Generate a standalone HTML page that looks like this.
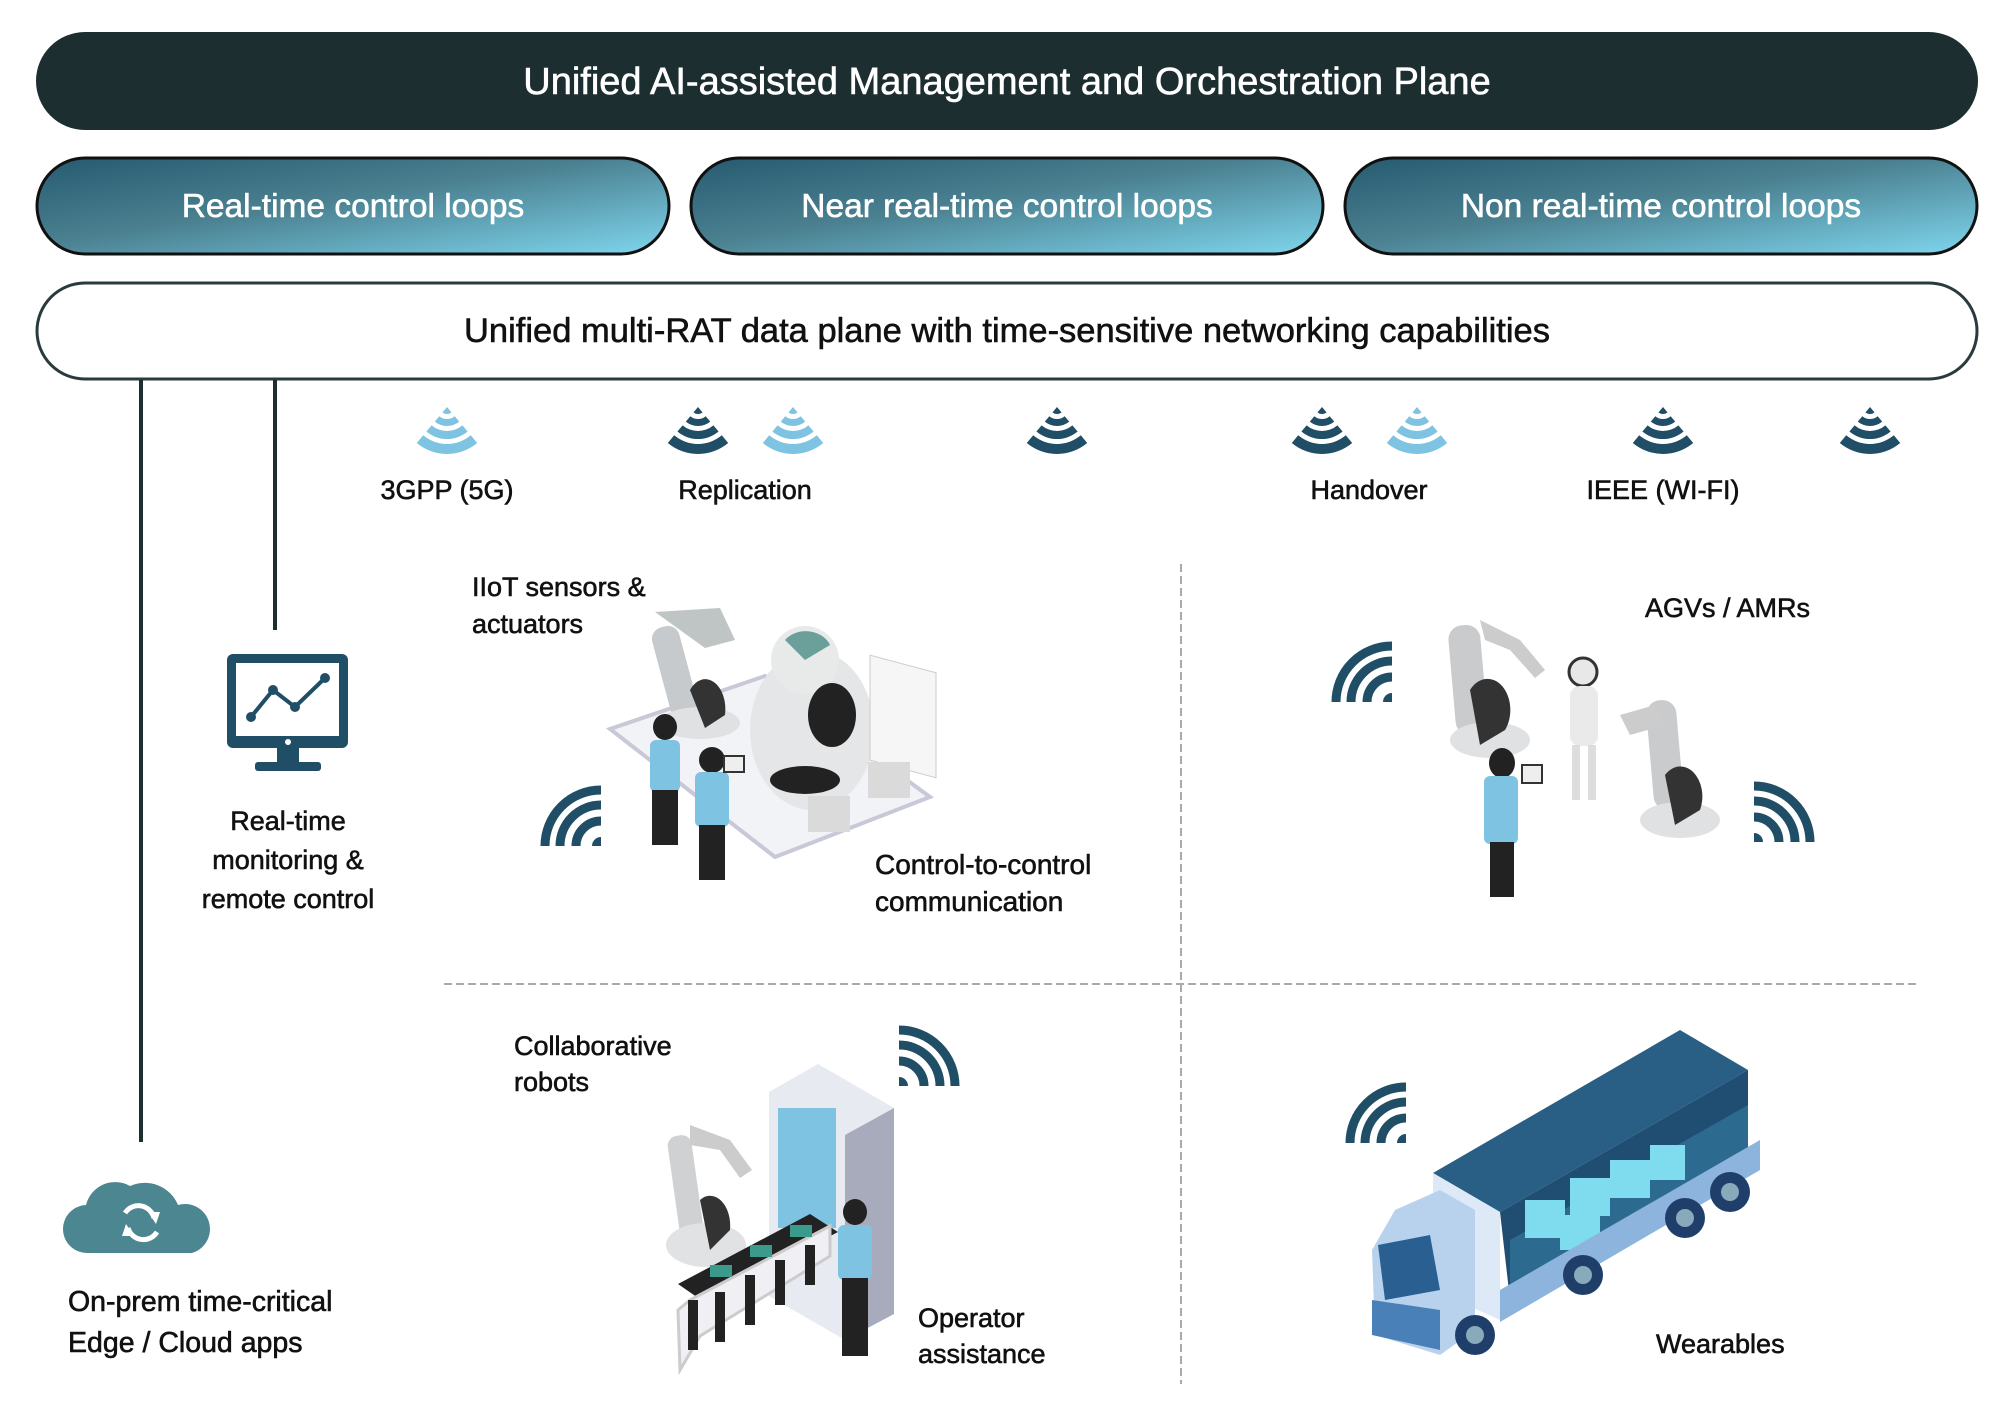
<!DOCTYPE html>
<html><head><meta charset="utf-8"><style>
html,body{margin:0;padding:0;background:#fff;}
svg{display:block;}
text{font-family:"Liberation Sans",sans-serif;}
</style></head><body>
<svg width="2000" height="1414" viewBox="0 0 2000 1414" xmlns="http://www.w3.org/2000/svg">
<defs>
<linearGradient id="g1" x1="0" y1="0" x2="1" y2="1">
<stop offset="0" stop-color="#275a70"/><stop offset="0.45" stop-color="#4a8090"/><stop offset="1" stop-color="#7fd6ee"/>
</linearGradient>
<g id="fan">
<path d="M32,0 L36.5,5.4 A7,7 0 0 1 27.5,5.4Z"/>
<path d="M39.7,9.2 L44.2,14.6 A19,19 0 0 1 19.8,14.6 L24.3,9.2 A12,12 0 0 0 39.7,9.2Z"/>
<path d="M47.4,18.4 L52.6,24.5 A32,32 0 0 1 11.4,24.5 L16.6,18.4 A24,24 0 0 0 47.4,18.4Z"/>
<path d="M55.8,28.3 L62.2,36 A47,47 0 0 1 1.8,36 L8.2,28.3 A37,37 0 0 0 55.8,28.3Z"/>
</g>
<g id="qbr" fill="none" stroke="#1f4e66" stroke-width="9">
<path d="M47,56 A9,9 0 0 1 56,47 L56,56Z" fill="#1f4e66" stroke="none"/>
<path d="M31,56 A25,25 0 0 1 56,31"/>
<path d="M15,56 A41,41 0 0 1 56,15"/>
<path d="M0,56 A56,56 0 0 1 56,0"/>
</g>
</defs>

<rect x="36" y="32" width="1942" height="98" rx="49" fill="#1d2e31"/>
<text x="1007" y="94" font-size="38" fill="#fff" stroke="#fff" stroke-width="0.6" text-anchor="middle">Unified AI-assisted Management and Orchestration Plane</text>

<rect x="37" y="158" width="632" height="96" rx="48" fill="url(#g1)" stroke="#111" stroke-width="3"/>
<rect x="691" y="158" width="632" height="96" rx="48" fill="url(#g1)" stroke="#111" stroke-width="3"/>
<rect x="1345" y="158" width="632" height="96" rx="48" fill="url(#g1)" stroke="#111" stroke-width="3"/>
<g font-size="33.5" fill="#fff" stroke="#fff" stroke-width="0.6" text-anchor="middle">
<text x="353" y="217">Real-time control loops</text>
<text x="1007" y="217">Near real-time control loops</text>
<text x="1661" y="217">Non real-time control loops</text>
</g>

<rect x="37" y="283" width="1940" height="96" rx="48" fill="#fff" stroke="#2a3b3e" stroke-width="3"/>
<text x="1007" y="342" font-size="34.5" fill="#111" stroke="#111" stroke-width="0.6" text-anchor="middle">Unified multi-RAT data plane with time-sensitive networking capabilities</text>

<line x1="141" y1="380" x2="141" y2="1142" stroke="#1d2e31" stroke-width="4"/>
<line x1="275" y1="380" x2="275" y2="630" stroke="#1d2e31" stroke-width="4"/>

<use href="#fan" x="415" y="407" fill="#7ec4e2"/>
<use href="#fan" x="666" y="407" fill="#1f4e66"/>
<use href="#fan" x="761" y="407" fill="#7ec4e2"/>
<use href="#fan" x="1025" y="407" fill="#1f4e66"/>
<use href="#fan" x="1290" y="407" fill="#1f4e66"/>
<use href="#fan" x="1385" y="407" fill="#7ec4e2"/>
<use href="#fan" x="1631" y="407" fill="#1f4e66"/>
<use href="#fan" x="1838" y="407" fill="#1f4e66"/>

<g font-size="27" fill="#111" stroke="#111" stroke-width="0.6">
<text x="447" y="499" text-anchor="middle">3GPP (5G)</text>
<text x="745" y="499" text-anchor="middle">Replication</text>
<text x="1369" y="499" text-anchor="middle">Handover</text>
<text x="1663" y="499" text-anchor="middle">IEEE (WI-FI)</text>
<text x="472" y="596">IIoT sensors &amp;</text>
<text x="472" y="633">actuators</text>
<text x="288" y="830" text-anchor="middle">Real-time</text>
<text x="288" y="869" text-anchor="middle">monitoring &amp;</text>
<text x="288" y="908" text-anchor="middle">remote control</text>
<text x="875" y="874" font-size="28">Control-to-control</text>
<text x="875" y="911" font-size="28">communication</text>
<text x="1645" y="617">AGVs / AMRs</text>
<text x="514" y="1055">Collaborative</text>
<text x="514" y="1091">robots</text>
<text x="918" y="1327">Operator</text>
<text x="918" y="1363">assistance</text>
<text x="1656" y="1353">Wearables</text>
<text x="68" y="1311" font-size="28.5">On-prem time-critical</text>
<text x="68" y="1352" font-size="28.5">Edge / Cloud apps</text>
</g>

<line x1="1181" y1="564" x2="1181" y2="1384" stroke="#aaa" stroke-width="2" stroke-dasharray="8 4"/>
<line x1="444" y1="984" x2="1917" y2="984" stroke="#aaa" stroke-width="2" stroke-dasharray="8 4"/>

<rect x="227" y="654" width="121" height="94" rx="6" fill="#1f4e66"/>
<rect x="236" y="663" width="103" height="73" fill="#fff"/>
<polyline points="251,717 273,690 295,707 325,678" fill="none" stroke="#1f4e66" stroke-width="4"/>
<circle cx="251" cy="717" r="5" fill="#1f4e66"/><circle cx="273" cy="690" r="5" fill="#1f4e66"/><circle cx="295" cy="707" r="5" fill="#1f4e66"/><circle cx="325" cy="678" r="5" fill="#1f4e66"/>
<circle cx="288" cy="742" r="3" fill="#fff"/>
<rect x="277" y="748" width="22" height="14" fill="#1f4e66"/>
<rect x="255" y="762" width="66" height="9" rx="3" fill="#1f4e66"/>

<path d="M88,1253 A24,24 0 0 1 86,1205 A30,30 0 0 1 130,1186 A36,36 0 0 1 178,1205 A24,24 0 0 1 192,1253Z" fill="#4c8690"/>
<g fill="none" stroke="#fff" stroke-width="5">
<path d="M125,1213 A16,16 0 0 1 154,1218"/><path d="M157,1232 A16,16 0 0 1 128,1228"/>
</g>
<path d="M148,1212 L160,1212 L156,1224Z M134,1236 L122,1236 L126,1224Z" fill="#fff"/>

<use href="#qbr" x="545" y="790"/>
<use href="#qbr" x="1336" y="646"/>
<use href="#qbr" x="1350" y="1087"/>
<use href="#qbr" transform="translate(1810,786) scale(-1,1)"/>
<use href="#qbr" transform="translate(955,1030) scale(-1,1)"/>

<polygon points="610,729 765,676 930,797 775,857" fill="#f2f3f6" stroke="#c8c8d8" stroke-width="4"/>
<rect x="663" y="625" width="28" height="110" rx="12" fill="#c7cacc" transform="rotate(-15 677 680)"/>
<path d="M655,612 L720,608 L735,640 L705,648Z" fill="#bfc4c4"/>
<ellipse cx="700" cy="723" rx="40" ry="16" fill="#dfe1e2"/>
<path d="M690,690 A20,30 0 0 1 725,715 L705,728Z" fill="#333"/>
<ellipse cx="812" cy="730" rx="62" ry="80" fill="#e4e6e7"/>
<circle cx="805" cy="660" r="34" fill="#e8eaea"/>
<path d="M785,640 A26,22 0 0 1 830,645 L805,660Z" fill="#6a9f9a"/>
<ellipse cx="832" cy="715" rx="24" ry="32" fill="#222"/>
<ellipse cx="805" cy="780" rx="35" ry="14" fill="#222"/>
<rect x="870" y="652" width="66" height="105" fill="#f6f6f6" stroke="#ccc" transform="skewY(15) translate(0,-230)"/>
<rect x="808" y="796" width="42" height="36" fill="#dadada"/>
<rect x="868" y="762" width="42" height="36" fill="#dadada"/>
<ellipse cx="665" cy="727" rx="12" ry="13" fill="#222"/>
<rect x="650" y="740" width="30" height="52" rx="6" fill="#7ec4e2"/>
<rect x="652" y="790" width="26" height="55" fill="#222"/>
<ellipse cx="712" cy="760" rx="13" ry="13" fill="#222"/>
<rect x="695" y="772" width="34" height="55" rx="6" fill="#7ec4e2"/>
<rect x="699" y="825" width="26" height="55" fill="#222"/>
<rect x="724" y="756" width="20" height="16" fill="#eee" stroke="#333" stroke-width="2"/>

<polygon points="769,1092 818,1064 894,1108 894,1314 845,1340 769,1296" fill="#e8eaf2"/>
<polygon points="845,1135 894,1108 894,1314 845,1340" fill="#a8abbc"/>
<rect x="778" y="1108" width="58" height="120" fill="#7ec4e2"/>
<rect x="674" y="1135" width="24" height="110" rx="10" fill="#cfd1d3" transform="rotate(-8 686 1190)"/>
<path d="M690,1125 L730,1140 L752,1170 L740,1178 L720,1150 L690,1145Z" fill="#ccc"/>
<ellipse cx="706" cy="1245" rx="40" ry="22" fill="#e0e2e3"/>
<path d="M700,1200 A20,30 0 0 1 730,1230 L710,1250Z" fill="#333"/>
<polygon points="678,1284 810,1214 838,1232 704,1302" fill="#222"/>
<polygon points="690,1300 830,1226 830,1256 700,1336 680,1370 678,1310" fill="#f0f0f4" stroke="#ccc" stroke-width="3"/>
<g fill="#222"><rect x="688" y="1300" width="10" height="50"/><rect x="715" y="1292" width="10" height="50"/><rect x="745" y="1275" width="10" height="50"/><rect x="775" y="1260" width="10" height="45"/><rect x="805" y="1245" width="10" height="40"/></g>
<rect x="710" y="1265" width="22" height="12" fill="#3a9a8c"/><rect x="750" y="1245" width="22" height="12" fill="#3a9a8c"/><rect x="790" y="1225" width="22" height="12" fill="#3a9a8c"/>
<ellipse cx="855" cy="1212" rx="12" ry="13" fill="#222"/>
<rect x="838" y="1225" width="34" height="55" rx="6" fill="#7ec4e2"/>
<rect x="842" y="1278" width="26" height="78" fill="#222"/>

<rect x="1452" y="625" width="32" height="110" rx="14" fill="#c9cbcd" transform="rotate(-5 1468 680)"/>
<ellipse cx="1490" cy="740" rx="40" ry="18" fill="#dfe1e2"/>
<path d="M1470,690 A22,30 0 0 1 1505,730 L1480,745Z" fill="#333"/>
<path d="M1480,620 L1520,640 L1545,670 L1535,678 L1510,650 L1485,640Z" fill="#ccc"/>
<circle cx="1583" cy="672" r="14" fill="#e8e8e8" stroke="#333" stroke-width="3"/>
<rect x="1570" y="686" width="28" height="60" rx="10" fill="#eaeaea"/>
<rect x="1572" y="745" width="8" height="55" fill="#ddd"/><rect x="1588" y="745" width="8" height="55" fill="#ddd"/>
<rect x="1650" y="700" width="30" height="110" rx="14" fill="#c9cbcd" transform="rotate(-5 1665 755)"/>
<ellipse cx="1680" cy="820" rx="40" ry="18" fill="#dfe1e2"/>
<path d="M1665,775 A22,30 0 0 1 1700,810 L1675,825Z" fill="#333"/>
<path d="M1620,715 L1655,705 L1665,725 L1630,735Z" fill="#ccc"/>
<ellipse cx="1502" cy="763" rx="13" ry="15" fill="#222"/>
<rect x="1484" y="776" width="34" height="68" rx="6" fill="#7ec4e2"/>
<rect x="1490" y="842" width="24" height="55" fill="#222"/>
<rect x="1522" y="765" width="20" height="18" fill="#eee" stroke="#333" stroke-width="2"/>

<polygon points="1433,1173 1680,1030 1748,1070 1500,1212" fill="#2a5f85"/>
<polygon points="1500,1212 1748,1070 1748,1160 1510,1300" fill="#1f4e72"/>
<polygon points="1510,1240 1748,1105 1748,1160 1510,1300" fill="#2c6a90"/>
<g fill="#7fdcef"><rect x="1525" y="1200" width="40" height="38"/><rect x="1570" y="1178" width="40" height="38"/><rect x="1610" y="1160" width="40" height="38"/><rect x="1650" y="1145" width="35" height="35"/><rect x="1560" y="1215" width="40" height="35"/></g>
<polygon points="1433,1173 1500,1212 1500,1320 1433,1290" fill="#dde9f7"/>
<polygon points="1395,1210 1440,1190 1475,1210 1475,1330 1440,1355 1375,1335 1372,1250" fill="#b8d2ee"/>
<polygon points="1378,1245 1430,1235 1440,1290 1385,1300" fill="#2a5f92"/>
<polygon points="1372,1300 1440,1310 1440,1350 1372,1335" fill="#4a80b8"/>
<polygon points="1500,1290 1760,1140 1760,1170 1500,1322" fill="#8cb4dc"/>
<circle cx="1475" cy="1335" r="20" fill="#1f3f6a"/><circle cx="1475" cy="1335" r="9" fill="#8ab"/>
<circle cx="1583" cy="1275" r="20" fill="#1f3f6a"/><circle cx="1583" cy="1275" r="9" fill="#8ab"/>
<circle cx="1685" cy="1218" r="20" fill="#1f3f6a"/><circle cx="1685" cy="1218" r="9" fill="#8ab"/>
<circle cx="1730" cy="1192" r="20" fill="#1f3f6a"/><circle cx="1730" cy="1192" r="9" fill="#8ab"/>
</svg>
</body></html>
